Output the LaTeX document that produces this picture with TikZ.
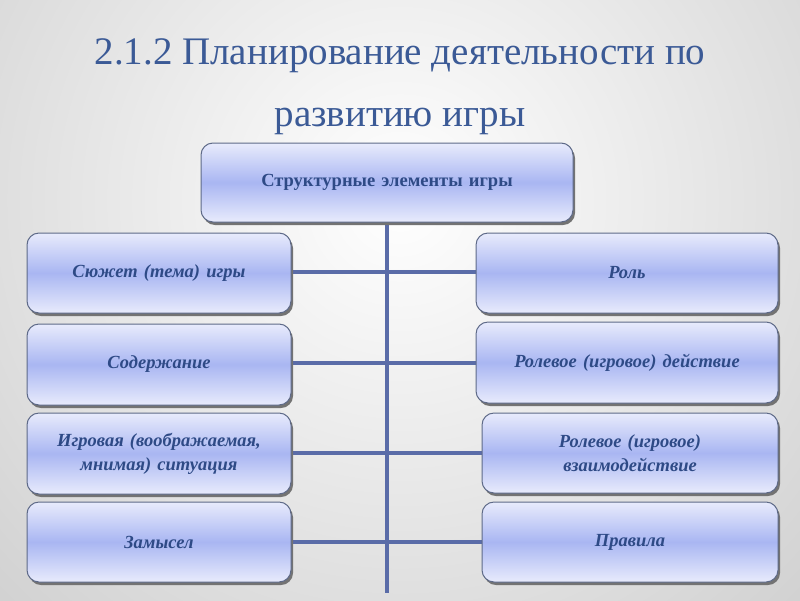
\documentclass[tikz,border=0pt]{standalone}
\usepackage{fontspec}
\setmainfont{Liberation Serif}
\usetikzlibrary{shadings}
\definecolor{titleblue}{HTML}{3B5A96}
\definecolor{textblue}{HTML}{2E4A86}
\definecolor{boxtop}{HTML}{E8EBFC}
\definecolor{boxmid}{HTML}{A9B6F2}
\definecolor{boxedge}{HTML}{5E6A88}
\definecolor{linecol}{HTML}{5A6CA8}
\tikzset{
  box/.style={draw=boxedge, line width=1pt, rounded corners=12pt,
    top color=boxtop, bottom color=boxtop, middle color=boxmid,
    align=center, font=\fontsize{18.5}{24}\selectfont\bfseries\itshape,
    text=textblue, inner sep=0pt},
  boxshadow/.style={fill=black!55, rounded corners=12pt},
  conn/.style={draw=linecol, line width=4.5pt},
  titletext/.style={text=titleblue, font=\fontsize{39}{44}\selectfont}
}
\newcommand{\mybox}[6]{%
  \fill[boxshadow] (#1+2,#2+3) rectangle (#3+2,#4+3);
  \node[box, minimum width=#3-#1, minimum height=#4-#2, text width=#3-#1-10] (#5) at ({(#1+#3)/2},{(#2+#4)/2}) {#6};
}
\begin{document}
\begin{tikzpicture}[x=1pt,y=-1pt]
\useasboundingbox (0,0) rectangle (800,600);
\begin{scope}
\clip (0,0) rectangle (800,600);
\shade[inner color=white, outer color=black!22] (-300,-500) rectangle (1100,900);
\end{scope}
\node[titletext] (t1) at (400,56) {2.1.2 Планирование деятельности по};
\node[titletext] (t2) at (400,121) {развитию игры};
\coordinate (vtop) at (387,222);
\coordinate (vbot) at (387,593);
\draw[conn] (vtop) -- (vbot);
\draw[conn] (291,272) -- (476,272);
\draw[conn] (291,363) -- (476,363);
\draw[conn] (291,453) -- (482,453);
\draw[conn] (291,542) -- (482,542);
\mybox{201}{143}{573}{222}{top}{\upshape Структурные элементы игры}
\mybox{27}{233}{291}{313}{l1}{Сюжет (тема) игры}
\mybox{27}{324}{291}{405}{l2}{Содержание}
\mybox{27}{413}{291}{494}{l3}{Игровая (воображаемая,\\ мнимая) ситуация}
\mybox{27}{502}{291}{582}{l4}{Замысел}
\mybox{476}{233}{778}{313}{r1}{Роль}
\mybox{476}{322}{778}{403}{r2}{Ролевое (игровое) действие}
\mybox{482}{413}{778}{493}{r3}{Ролевое (игровое)\\ взаимодействие}
\mybox{482}{502}{778}{582}{r4}{Правила}
\end{tikzpicture}
\end{document}
